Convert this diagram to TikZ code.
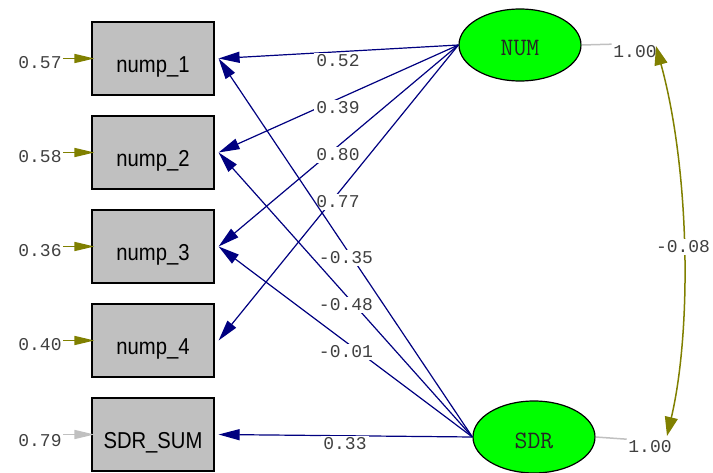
\documentclass[tikz,border=0pt]{standalone}
\usepackage{fontspec}
\newfontfamily\coeffont{Liberation Mono}
\newfontfamily\boxfont{Liberation Sans}[FakeStretch=0.88]
\usetikzlibrary{shapes.geometric,arrows.meta}

\definecolor{pathblue}{RGB}{0,0,128}
\definecolor{errolive}{RGB}{128,128,0}
\definecolor{boxgray}{RGB}{192,192,192}
\definecolor{latgreen}{RGB}{0,255,0}
\definecolor{numgray}{RGB}{64,64,64}

\tikzstyle{observed} = [rectangle, minimum width=122pt, minimum height=73pt, draw=black, line width=1.2pt, fill=boxgray, font=\boxfont\fontsize{23}{24}\selectfont, text height=28pt, text depth=0pt]
\tikzstyle{latent} = [ellipse, minimum width=122pt, minimum height=72pt, inner sep=0pt, draw=black, line width=1.2pt, fill=latgreen, font=\ttfamily\fontsize{25}{26}\selectfont, text=black!85, text height=22pt, text depth=0pt]
\tikzstyle{coef} = [font=\coeffont\fontsize{18}{18}\selectfont, text=numgray, inner sep=1.5pt]
\tikzstyle{wlabel} = [coef, fill=white, inner xsep=2pt]
\tikzstyle{load} = [-{Triangle[length=21pt,width=11pt]}, draw=pathblue, line width=1.2pt]
\tikzstyle{errarrow} = [-{Triangle[length=20pt,width=9pt]}, draw=errolive, line width=1.6pt]

\begin{document}
\begin{tikzpicture}[x=1pt, y=-1pt]
    %\draw[step=50,gray,very thin] (0,0) grid (713,473);
    \useasboundingbox (0,0) rectangle (713,473);
	\node (nump1) at (153,58.5) [observed] {nump\_1};
	\node (nump2) at (153,152.5) [observed] {nump\_2};
	\node (nump3) at (153,246.5) [observed] {nump\_3};
	\node (nump4) at (153,340.5) [observed] {nump\_4};
	\node (sdrsum) at (153,434.5) [observed] {SDR\_SUM};
	\node (num) at (520,45) [latent] {NUM};
	\node (sdr) at (534,437) [latent] {SDR};
	% error variances
	\node (e1) at (40,63) [coef] {0.57};
	\node (e2) at (40,157) [coef] {0.58};
	\node (e3) at (40,251) [coef] {0.36};
	\node (e4) at (40,345) [coef] {0.40};
	\node (e5) at (40,441) [coef] {0.79};
	\draw [errarrow] (e1.east |- nump1.west) -- ([xshift=3pt]nump1.west);
	\draw [errarrow] (e2.east |- nump2.west) -- ([xshift=3pt]nump2.west);
	\draw [errarrow] (e3.east |- nump3.west) -- ([xshift=3pt]nump3.west);
	\draw [errarrow] (e4.east |- nump4.west) -- ([xshift=3pt]nump4.west);
	\draw [errarrow, draw=boxgray] (e5.east |- sdrsum.west) -- ([xshift=3pt]sdrsum.west);
	% loadings of NUM
	\draw [load] (num.west) -- ([xshift=4pt]nump1.east) node (w1) at (338,61) [wlabel] {0.52};
	\draw [load] (num.west) -- ([xshift=4pt]nump2.east) node (w2) at (338,108) [wlabel] {0.39};
	\draw [load] (num.west) -- ([xshift=4pt]nump3.east) node (w3) at (338,155) [wlabel] {0.80};
	\draw [load] (num.west) -- ([xshift=4pt]nump4.east) node (w4) at (338,202) [wlabel] {0.77};
	% loadings of SDR
	\draw [load] (sdr.west) -- ([xshift=4pt]nump1.east) node (w5) at (346,258) [wlabel] {-0.35};
	\draw [load] (sdr.west) -- ([xshift=4pt]nump2.east) node (w6) at (346,305) [wlabel] {-0.48};
	\draw [load] (sdr.west) -- ([xshift=4pt]nump3.east) node (w7) at (346,352) [wlabel] {-0.01};
	\draw [load] (sdr.west) -- ([xshift=4pt]sdrsum.east) node (w8) at (345,444) [wlabel] {0.33};
	% latent variances and covariance
	\node (numvar) at (635,52) [coef] {1.00};
	\node (sdrvar) at (650,447) [coef] {1.00};
	\draw [draw=boxgray, line width=1.5pt] (num.east) -- (numvar.north west);
	\draw [draw=boxgray, line width=1.5pt] (sdr.east) -- (sdrvar.north west);
	\coordinate (covtop) at (656,46);
	\coordinate (covbot) at (667,436);
	\draw [{Triangle[length=19pt,width=13pt]}-{Triangle[length=19pt,width=13pt]}, draw=errolive, line width=1.5pt] (covtop) .. controls (690,170) and (692,330) .. (covbot);
	\node (cov) at (683,247) [wlabel] {-0.08};
\end{tikzpicture}
\end{document}
